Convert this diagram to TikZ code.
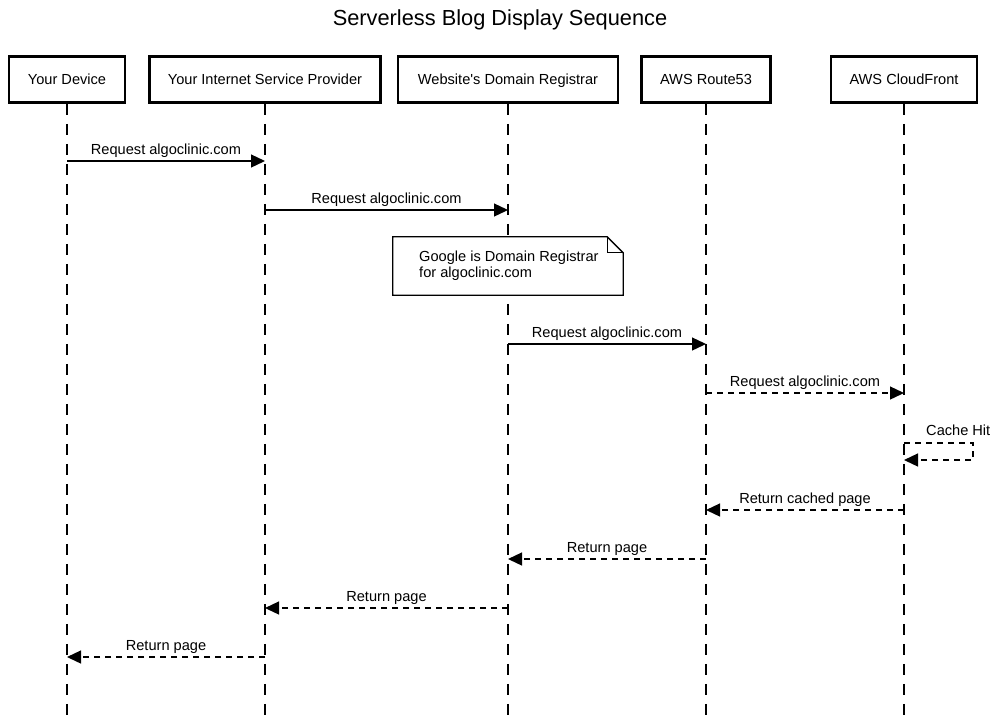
\documentclass[tikz,border=0pt]{standalone}
\usepackage{fontspec}
\setmainfont{Liberation Sans}[Ligatures=TeXOff]
\usetikzlibrary{arrows.meta}
\begin{document}
\begin{tikzpicture}[x=1pt,y=-1pt,
  actor/.style={draw, line width=2.5pt, minimum height=46pt, inner sep=0pt, fill=white, text height=9pt, text depth=0pt, font=\fontsize{14.6}{16}\selectfont},
  life/.style={line width=1.4pt, dash pattern=on 11pt off 9pt},
  msg/.style={line width=1.3pt, -{Triangle[length=14pt,width=13pt]}},
  ret/.style={msg, dash pattern=on 6pt off 5pt},
  lbl/.style={font=\fontsize{14.6}{16}\selectfont, anchor=base, inner sep=0pt, yshift=7pt},
  notebox/.style={line width=1.3pt, fill=white}
]
\useasboundingbox (0,0) rectangle (1000,718);
\node[font=\fontsize{21.8}{26}\selectfont, anchor=base, inner sep=0pt] (title) at (500,25.5) {Serverless Blog Display Sequence};

% actors
\node[actor, minimum width=116pt] (dev) at (67,79.5) {Your Device};
\node[actor, minimum width=231pt] (isp) at (265,79.5) {Your Internet Service Provider};
\node[actor, minimum width=220pt] (reg) at (508,79.5) {Website's Domain Registrar};
\node[actor, minimum width=129pt] (r53) at (706,79.5) {AWS Route53};
\node[actor, minimum width=146pt] (cf) at (904,79.5) {AWS CloudFront};

% lifeline ends
\coordinate (devE) at (67,718);
\coordinate (ispE) at (265,718);
\coordinate (regE) at (508,718);
\coordinate (r53E) at (706,718);
\coordinate (cfE) at (904,718);
\draw[life] (dev.south) -- (devE);
\draw[life] (isp.south) -- (ispE);
\draw[life] (reg.south) -- (regE);
\draw[life] (r53.south) -- (r53E);
\draw[life] (cf.south) -- (cfE);

% message end points
\coordinate (a1) at (67,161);  \coordinate (b1) at (265,161);
\coordinate (a2) at (265,210); \coordinate (b2) at (508,210);
\coordinate (a3) at (508,344); \coordinate (b3) at (706,344);
\coordinate (a4) at (706,393); \coordinate (b4) at (904,393);
\coordinate (s1) at (904,443); \coordinate (s2) at (973,443);
\coordinate (s3) at (973,460); \coordinate (s4) at (904,460);
\coordinate (a5) at (904,510); \coordinate (b5) at (706,510);
\coordinate (a6) at (706,559); \coordinate (b6) at (508,559);
\coordinate (a7) at (508,608); \coordinate (b7) at (265,608);
\coordinate (a8) at (265,657); \coordinate (b8) at (67,657);

\draw[msg] (a1) -- node[lbl] {Request algoclinic.com} (b1);
\draw[msg] (a2) -- node[lbl] {Request algoclinic.com} (b2);

% note
\node[inner sep=0pt, minimum width=230pt, minimum height=58pt] (note) at (508,266) {};
\fill[white] (note.south west) rectangle (note.north east);
\draw[notebox] (note.north west) -- ([xshift=-16pt]note.north east) -- ([yshift=-16pt]note.north east) -- (note.south east) -- (note.south west) -- cycle;
\draw[line width=1.3pt] ([xshift=-16pt]note.north east) |- ([yshift=-16pt]note.north east);
\node[anchor=west, align=left, inner sep=0pt, font=\fontsize{14.6}{16}\selectfont] (notetext) at (419,265.5) {Google is Domain Registrar\\for algoclinic.com};

\draw[msg] (a3) -- node[lbl] {Request algoclinic.com} (b3);
\draw[ret] (a4) -- node[lbl] {Request algoclinic.com} (b4);
\draw[ret] (s1) -- (s2) -- (s3) -- (s4);
\node[font=\fontsize{14.6}{16}\selectfont, anchor=base west, inner sep=0pt] (cachehit) at (926,435) {Cache Hit};
\draw[ret] (a5) -- node[lbl] {Return cached page} (b5);
\draw[ret] (a6) -- node[lbl] {Return page} (b6);
\draw[ret] (a7) -- node[lbl] {Return page} (b7);
\draw[ret] (a8) -- node[lbl] {Return page} (b8);
\end{tikzpicture}
\end{document}
